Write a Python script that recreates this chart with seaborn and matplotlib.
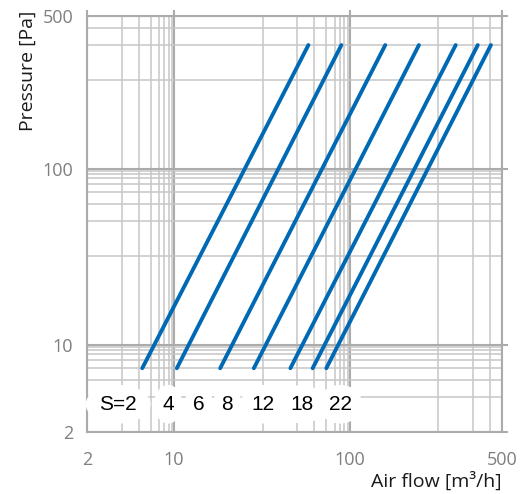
import matplotlib
matplotlib.use("Agg")
import matplotlib.pyplot as plt
import seaborn as sns
import pandas as pd
import numpy as np

# valve settings and their characteristic lines (air flow m3/h, pressure Pa)
settings = ["S=2", "4", "6", "8", "12", "18", "22"]
flow_low = [4.3, 10.3, 15.2, 19, 28, 39, 50]
flow_high = [36.5, 73, 140, 178, 250, 328, 407]
press_low = 5
press_high = 300

# where the setting labels sit (data coords)
label_x = [2.9, 7.9, 12.8, 16, 20, 33, 70]
label_y = 2.8

major_ticks = [2, 10, 100, 500]
minor_ticks = [3, 4, 5, 6, 7, 8, 9, 20, 30, 40, 50, 60, 70, 80, 90, 200, 300, 400]

# the chart's decade spacing is not a plain log: mantissa -> fraction of a decade
mant = [1, 2, 3, 4, 5, 6, 7, 8, 9, 10]
frac = [0, 0.504, 0.701, 0.798, 0.866, 0.913, 0.945, 0.968, 0.987, 1.0]


def fwd(v):
    v = np.clip(np.asarray(v, dtype=float), 1e-12, None)
    lv = np.log10(v)
    k = np.floor(lv)
    m = 10 ** (lv - k)
    return k + np.interp(m, mant, frac)


def inv(t):
    t = np.asarray(t, dtype=float)
    k = np.floor(t)
    m = np.interp(t - k, frac, mant)
    return m * 10 ** k


rows = []
for s, lo, hi in zip(settings, flow_low, flow_high):
    rows.append({"S": s, "flow": lo, "pressure": press_low})
    rows.append({"S": s, "flow": hi, "pressure": press_high})
df = pd.DataFrame(rows)

sns.set_style("white")
plt.rcParams["font.family"] = ["Open Sans", "DejaVu Sans"]

fig = plt.figure(figsize=(5.32, 4.94), dpi=100)
ax = fig.add_axes([87 / 532, 1 - 432 / 494, 415 / 532, 416 / 494])

sns.lineplot(data=df, x="flow", y="pressure", units="S", estimator=None,
             color="#0069b4", linewidth=2.8, ax=ax, zorder=3,
             solid_capstyle="round")

ax.set_xscale("function", functions=(fwd, inv))
ax.set_yscale("function", functions=(fwd, inv))
ax.set_xlim(2, 500)
ax.set_ylim(2, 500)

grey_major = "#ababab"
grey_minor = "#c6c6c6"
ax.set_xticks(major_ticks, labels=[str(t) for t in major_ticks])
ax.set_yticks(major_ticks, labels=[str(t) for t in major_ticks])
ax.set_xticks(minor_ticks, minor=True)
ax.set_yticks(minor_ticks, minor=True)
ax.xaxis.set_minor_formatter(matplotlib.ticker.NullFormatter())
ax.yaxis.set_minor_formatter(matplotlib.ticker.NullFormatter())

ax.grid(which="major", color=grey_major, linewidth=1.5)
ax.grid(which="minor", color=grey_minor, linewidth=1.1)
ax.set_axisbelow(True)

ax.tick_params(which="major", top=True, right=True, direction="out",
               length=4, width=1.5, color=grey_major, labelcolor="#7f7f7f",
               labelsize=13)
ax.tick_params(axis="x", which="major", pad=10)
ax.tick_params(axis="y", which="major", pad=6)
ax.tick_params(which="minor", length=0)
for sp in ax.spines.values():
    sp.set_color(grey_major)
    sp.set_linewidth(1.5)

ax.set_xlabel("Air flow [m³/h]", loc="right", fontsize=14, color="#1a1a1a")
ax.xaxis.set_label_coords(1.0, -0.094)
ax.set_ylabel("Pressure [Pa]", fontsize=14, color="#1a1a1a")
ax.yaxis.label.set_rotation_mode("anchor")
ax.yaxis.label.set_horizontalalignment("right")
ax.yaxis.label.set_verticalalignment("bottom")
ax.yaxis.set_label_coords(-0.12, 1.014)

for s, lx in zip(settings, label_x):
    ax.text(lx, label_y, s, ha="center", va="center", fontsize=15,
            family=["Liberation Sans", "DejaVu Sans"], color="black", zorder=4,
            bbox=dict(boxstyle="ellipse,pad=0.2", facecolor="white",
                      edgecolor="none"))

fig.savefig("out.png", dpi=100)
